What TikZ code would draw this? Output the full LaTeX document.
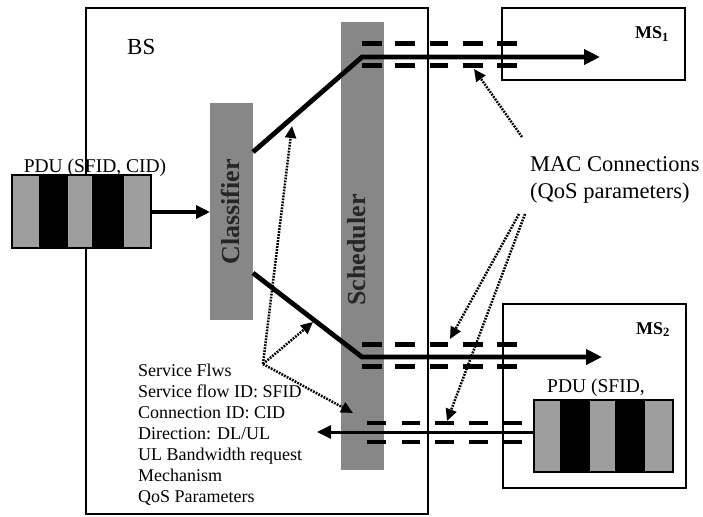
\documentclass[tikz,border=0pt]{standalone}
\usepackage{fontspec}
\setmainfont{Liberation Serif}
\usetikzlibrary{arrows.meta}
\begin{document}
\begin{tikzpicture}[x=1pt,y=-1pt,
  frame/.style={draw,line width=1.3pt,inner sep=0pt,outer sep=0pt,anchor=north west},
  msbox/.style={draw,line width=1.6pt,inner sep=0pt,outer sep=0pt,anchor=north west},
  bar/.style={fill=black!47,inner sep=0pt,outer sep=0pt,anchor=north west},
  bartext/.style={text=black!85,font=\fontsize{26}{28}\selectfont\bfseries,inner sep=0pt},
  pdubox/.style={draw,line width=1.6pt,inner sep=0pt,outer sep=0pt,anchor=north west},
  lightstripe/.style={fill=black!38},
  darkstripe/.style={fill=black},
  flow/.style={line width=4.8pt,-{Triangle[length=16pt,width=15pt]}},
  inarrow/.style={line width=4pt,-{Triangle[length=14pt,width=13pt]}},
  ularrow/.style={line width=3pt,-{Triangle[length=14pt,width=13pt]}},
  conndash/.style={line width=5pt},
  uldash/.style={line width=4pt},
  ptr/.style={line width=2.5pt,dash pattern=on 1.8pt off 1.2pt,-{Triangle[length=12pt,width=11pt]}},
  lbl/.style={inner sep=0pt,align=left}
]
\useasboundingbox (0,0) rectangle (703,516);
\fill[white] (0,0) rectangle (703,516);

% BS and MS boxes
\node[frame,minimum width=342pt,minimum height=506pt] (bs) at (86,8) {};
\node[msbox,minimum width=183pt,minimum height=72pt] (ms1) at (502,8) {};
\node[msbox,minimum width=183pt,minimum height=184pt] (ms2) at (503,304) {};
\node[lbl,anchor=base west,font=\fontsize{23}{26}\selectfont] (bslbl) at (127,55) {BS};
\node[lbl,anchor=base west,font=\fontsize{18}{20}\selectfont\bfseries] (ms1lbl) at (635,39) {MS$_{\mathbf 1}$};
\node[lbl,anchor=base west,font=\fontsize{18}{20}\selectfont\bfseries] (ms2lbl) at (636,334) {MS$_{\mathbf 2}$};

% Classifier and Scheduler bars
\node[bar,minimum width=43pt,minimum height=217pt] (cls) at (210,103) {};
\node[bar,minimum width=43pt,minimum height=448pt] (sch) at (341,22) {};
\node[bartext,rotate=90] (clst) at (230,212) {Classifier};
\node[bartext,rotate=90] (scht) at (357,250) {Scheduler};

% PDU at BS
\fill[lightstripe] (12,175) rectangle (39,248);
\fill[darkstripe] (39,175) rectangle (68,248);
\fill[lightstripe] (68,175) rectangle (92,248);
\fill[darkstripe] (92,175) rectangle (124,248);
\fill[lightstripe] (124,175) rectangle (151,248);
\node[pdubox,minimum width=139pt,minimum height=73pt] (pdu1) at (12,175) {};
\node[lbl,anchor=base,font=\fontsize{19.5}{22}\selectfont] (pdu1lbl) at (95,172) {PDU (SFID, CID)};

% PDU at MS2
\fill[lightstripe] (534,400) rectangle (560,472);
\fill[darkstripe] (560,400) rectangle (590,472);
\fill[lightstripe] (590,400) rectangle (615,472);
\fill[darkstripe] (615,400) rectangle (645,472);
\fill[lightstripe] (645,400) rectangle (673,472);
\node[pdubox,minimum width=139pt,minimum height=72pt] (pdu2) at (534,400) {};
\node[lbl,anchor=base west,font=\fontsize{19.5}{22}\selectfont] (pdu2lbl) at (547,392) {PDU (SFID,};

% input arrow
\draw[inarrow] (pdu1.east |- 0,212) -- (cls.west |- 0,212);

% downlink flows
\coordinate (ua) at (cls.east |- 0,152);
\coordinate (ub) at (362,57);
\coordinate (uc) at (600,57);
\coordinate (la) at (cls.east |- 0,273);
\coordinate (lb) at (362,357);
\coordinate (lc) at (602,357);
\draw[flow] (ua) -- (ub) -- (uc);
\draw[flow] (la) -- (lb) -- (lc);

% uplink flow
\coordinate (ulend) at (317,432);
\draw[ularrow] (pdu2.west |- 0,432) -- (ulend);

% MAC connection dashes
\foreach \a/\b in {362/382,395/415,430/448,463/483,497/517}{
  \draw[conndash] (\a,44) -- (\b,44);
  \draw[conndash] (\a,66) -- (\b,66);
  \draw[conndash] (\a,344) -- (\b,344);
  \draw[conndash] (\a,366) -- (\b,366);
}
\foreach \a/\b in {367/386,402/420,435/454,469/488,504/522}{
  \draw[uldash] (\a,423) -- (\b,423);
  \draw[uldash] (\a,442) -- (\b,442);
}

% service flow text
\node[lbl,anchor=north west,font=\fontsize{18}{21}\selectfont] (sftext) at (138,364)
  {Service Flws\\Service flow ID: SFID\\Connection ID: CID\\Direction: DL/UL\\UL Bandwidth request\\Mechanism\\QoS Parameters};
\coordinate (sf) at (263,364);
\coordinate (t1) at (292,126);
\coordinate (t2) at (313,322);
\coordinate (t3) at (353,413);
\draw[ptr] (sf) -- (t1);
\draw[ptr] (sf) -- (t2);
\draw[ptr] (sf) -- (t3);

% MAC connections text
\node[lbl,anchor=north west,font=\fontsize{22.5}{27}\selectfont] (mac) at (530,156)
  {MAC Connections\\(QoS parameters)};
\coordinate (m1) at (522,137);
\coordinate (m2) at (519,214);
\coordinate (m3) at (525,214);
\coordinate (mt1) at (474,69);
\coordinate (mt2) at (450,339);
\coordinate (mt3) at (447,421);
\draw[ptr] (m1) -- (mt1);
\draw[ptr] (m2) -- (mt2);
\draw[ptr] (m3) -- (mt3);
\end{tikzpicture}
\end{document}
